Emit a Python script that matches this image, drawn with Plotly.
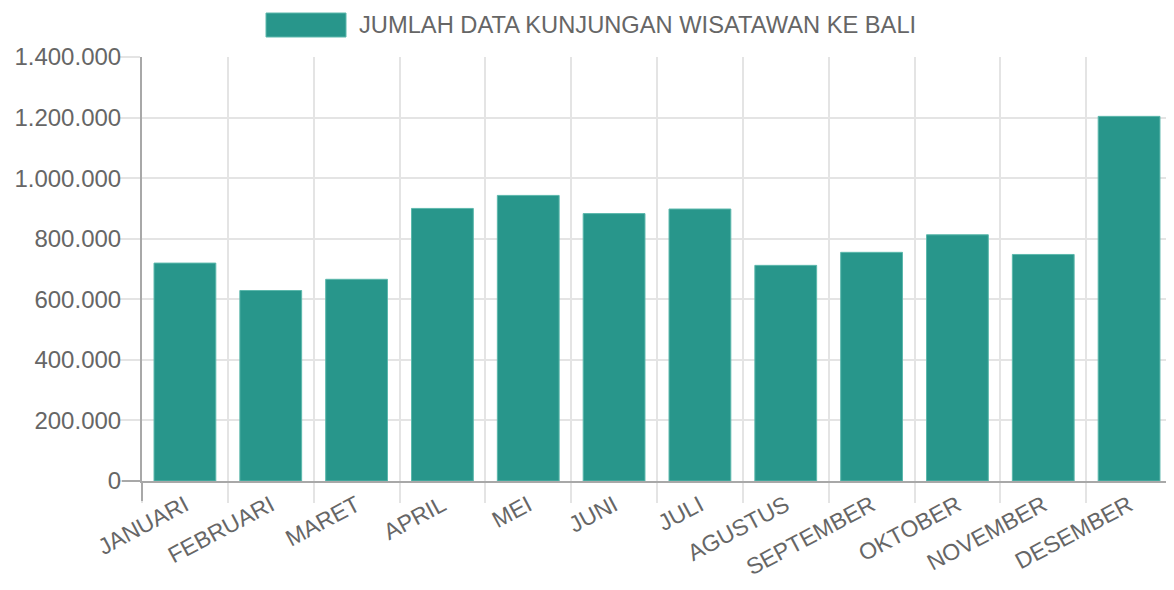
import plotly.graph_objects as go

months = ["JANUARI", "FEBRUARI", "MARET", "APRIL", "MEI", "JUNI", "JULI",
          "AGUSTUS", "SEPTEMBER", "OKTOBER", "NOVEMBER", "DESEMBER"]
visitors = [719500, 629000, 666000, 900000, 943000, 883000, 898000,
            712000, 755000, 813000, 748000, 1204000]
series_name = "JUMLAH DATA KUNJUNGAN WISATAWAN KE BALI"
y_ticks = [0, 200000, 400000, 600000, 800000, 1000000, 1200000, 1400000]

# page body has an 8px default margin; compensate so the plot lands in place
OFF = 8
W, H = 1174 - OFF, 590 - OFF
L, R, T, B = 142 - OFF, 2, 57 - OFF, 109
pw, ph = W - L - R, H - T - B
TICKLEN = 20

FILL = "rgb(40,150,139)"
EDGE = "rgb(92,184,172)"
GRID = "rgb(228,228,228)"
AXIS = "rgb(168,168,168)"
TXT = "#666666"
FONT = "Liberation Sans, Arial, Helvetica, sans-serif"

fig = go.Figure()
fig.add_trace(go.Bar(
    x=months, y=visitors, name=series_name,
    marker=dict(color=FILL, line=dict(color=EDGE, width=1)),
    showlegend=False,
))

def px_x(p):
    # p: pixel x in the screenshot
    return (p - OFF - L) / pw

def px_y(p):
    # p: pixel y in the screenshot
    return (H - B - (p - OFF)) / ph

# legend drawn as box + text
fig.add_shape(type="rect", xref="paper", yref="paper",
              x0=px_x(266), x1=px_x(346), y0=px_y(37), y1=px_y(13),
              fillcolor=FILL, line=dict(color=EDGE, width=1))
fig.add_annotation(xref="paper", yref="paper", x=px_x(357), y=px_y(25),
                   xanchor="left", yanchor="middle", showarrow=False,
                   text=series_name, font=dict(family=FONT, size=23.7, color=TXT))

# darker tick marks where the axis lines meet (zero line style)
fig.add_shape(type="line", xref="paper", yref="paper",
              x0=0, x1=0, y0=0, y1=-TICKLEN / ph,
              line=dict(color=AXIS, width=2), layer="above")
fig.add_shape(type="line", xref="paper", yref="paper",
              x0=0, x1=-TICKLEN / pw, y0=0, y1=0,
              line=dict(color=AXIS, width=2), layer="above")

fig.update_layout(
    width=W, height=H,
    margin=dict(l=L, r=R, t=T, b=B, pad=0),
    paper_bgcolor="white", plot_bgcolor="white",
    bargap=0.28,
    separators=",.",
    font=dict(family=FONT, size=23, color=TXT),
    xaxis=dict(
        type="category", tickson="boundaries",
        showgrid=True, gridcolor=GRID, gridwidth=2,
        ticks="outside", ticklen=TICKLEN, tickwidth=2, tickcolor=GRID,
        showline=True, linecolor=AXIS, linewidth=2,
        tickangle=-28, tickfont=dict(family=FONT, size=23, color=TXT),
        range=[-0.5, 11.5], fixedrange=True,
    ),
    yaxis=dict(
        range=[0, 1400000], tickvals=y_ticks, tickformat=",d",
        showgrid=True, gridcolor=GRID, gridwidth=2,
        ticks="outside", ticklen=TICKLEN, tickwidth=2, tickcolor=GRID,
        showline=True, linecolor=AXIS, linewidth=2,
        zeroline=False, ticklabelstandoff=-6,
        tickfont=dict(family=FONT, size=24, color=TXT),
        fixedrange=True,
    ),
)

fig.write_html("out.html", config={"displayModeBar": False})
